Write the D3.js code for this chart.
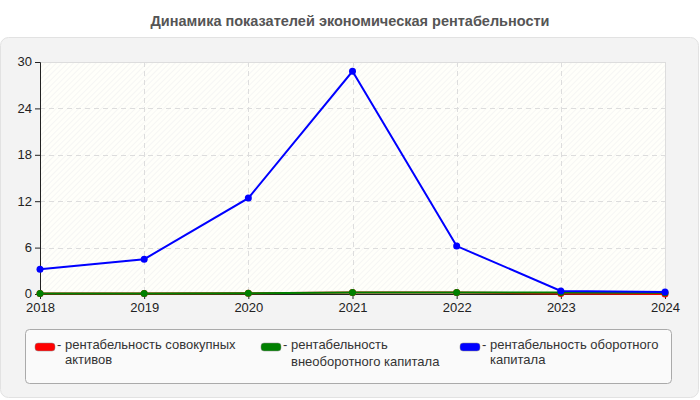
<!DOCTYPE html>
<html><head><meta charset="utf-8">
<script src="https://cdn.jsdelivr.net/npm/d3@7"></script>
<style>body{margin:0;background:#fff;font-family:Arial,"Liberation Sans",sans-serif;}</style>
</head><body>
<svg id="c" width="700" height="400"></svg>
<script>
const title = "Динамика показателей экономическая рентабельности";
const years = ["2018","2019","2020","2021","2022","2023","2024"];
const yTicks = [0,6,12,18,24,30];
const seriesNames = ["рентабельность совокупных активов","рентабельность внеоборотного капитала","рентабельность оборотного капитала"];
const legendLines = [["рентабельность совокупных","активов"],["рентабельность","внеоборотного капитала"],["рентабельность оборотного","капитала"]];
const colors = ["#ff0000","#008000","#0000ff"];
const red = [0.05,0.05,0.1,0.2,0.2,0.05,0.0];
const green = [0.05,0.05,0.1,0.2,0.2,0.2,0.15];
const blue = [3.2,4.5,12.4,28.8,6.2,0.4,0.25];
const data = [red,green,blue];

const svg = d3.select("#c");
const defs = svg.append("defs");
const pat = defs.append("pattern").attr("id","hatch").attr("patternUnits","userSpaceOnUse")
  .attr("width",4).attr("height",4).attr("patternTransform","rotate(45)");
pat.append("rect").attr("width",4).attr("height",4).attr("fill","#fffffa");
pat.append("line").attr("x1",0).attr("y1",0).attr("x2",0).attr("y2",4).attr("stroke","#eeeeee").attr("stroke-width",1);

svg.append("text").attr("x",350).attr("y",26).attr("text-anchor","middle")
  .attr("font-size",14.5).attr("font-weight","bold").attr("fill","#555").text(title);

svg.append("rect").attr("x",0.5).attr("y",37.5).attr("width",698).attr("height",360).attr("rx",8)
  .attr("fill","#f3f3f3").attr("stroke","#e2e2e2");

const L=40,R=665,T=62,B=294;
const x = d3.scalePoint().domain(years).range([L,R]);
const y = d3.scaleLinear().domain([0,30]).range([B,T]);

svg.append("rect").attr("x",L).attr("y",T).attr("width",R-L).attr("height",B-T).attr("fill","url(#hatch)");
svg.append("line").attr("x1",L).attr("x2",R).attr("y1",T+0.5).attr("y2",T+0.5).attr("stroke","#ddd");
svg.append("line").attr("x1",R+0.5).attr("x2",R+0.5).attr("y1",T).attr("y2",B).attr("stroke","#ddd");

const g = svg.append("g");
g.selectAll(".hg").data(yTicks.filter(d=>d>0&&d<30)).join("line")
  .attr("x1",L).attr("x2",R).attr("y1",d=>Math.round(y(d))+0.5).attr("y2",d=>Math.round(y(d))+0.5)
  .attr("stroke","#ddd").attr("stroke-dasharray","5,4");
g.selectAll(".vg").data(years.slice(1,-1)).join("line")
  .attr("y1",T).attr("y2",B).attr("x1",d=>Math.round(x(d))+0.5).attr("x2",d=>Math.round(x(d))+0.5)
  .attr("stroke","#ddd").attr("stroke-dasharray","5,4");

const yAxis = svg.append("g").attr("transform",`translate(${L},0)`)
  .call(d3.axisLeft(y).tickValues(yTicks).tickSize(5).tickPadding(3));
const xAxis = svg.append("g").attr("transform",`translate(0,${B})`)
  .call(d3.axisBottom(x).tickSize(5).tickPadding(4));
[yAxis,xAxis].forEach(a=>{
  a.select(".domain").attr("stroke","#222");
  a.selectAll(".tick line").attr("stroke","#222");
  a.selectAll("text").attr("font-size",13).attr("fill","#222").attr("font-family","Arial,'Liberation Sans',sans-serif");
});
yAxis.selectAll(".tick text").attr("dy","0.3em");

const line = d3.line().x((d,i)=>x(years[i])).y(d=>y(d));
data.forEach((s,k)=>{
  svg.append("path").datum(s).attr("d",line).attr("fill","none").attr("stroke",colors[k]).attr("stroke-width",2);
  svg.selectAll(".p"+k).data(s).join("circle").attr("cx",(d,i)=>x(years[i])).attr("cy",d=>y(d))
    .attr("r",3.5).attr("fill",colors[k]);
});

svg.append("rect").attr("x",25.5).attr("y",329.5).attr("width",646).attr("height",54).attr("rx",4)
  .attr("fill","#fafafa").attr("stroke","#aaa");
const lx=[35,261,460];
seriesNames.forEach((n,k)=>{
  const gg = svg.append("g");
  gg.append("rect").attr("x",lx[k]).attr("y",343).attr("width",20).attr("height",8).attr("rx",3)
    .attr("fill",colors[k]).attr("stroke","#888").attr("stroke-width",0.5);
  const t = gg.append("text").attr("font-size",13).attr("fill","#333");
  t.append("tspan").attr("x",lx[k]+22).attr("y",349).text("- "+legendLines[k][0]);
  t.append("tspan").attr("x",lx[k]+30).attr("y", k===1?366:364).text(legendLines[k][1]);
});
</script>
</body></html>
